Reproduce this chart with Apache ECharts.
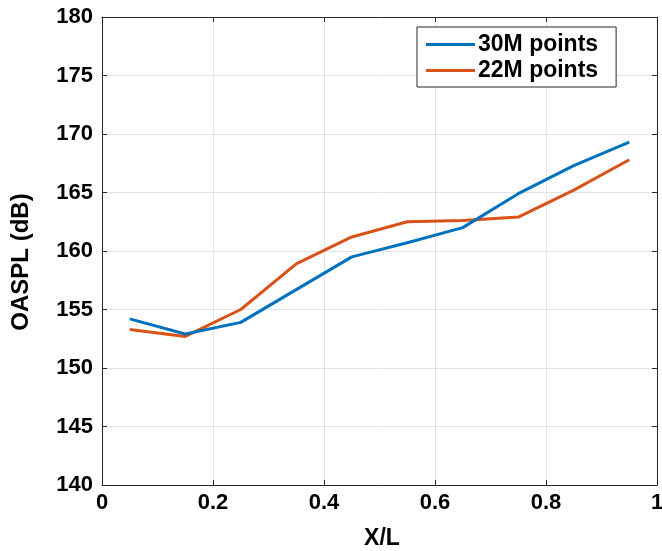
<!DOCTYPE html>
<html>
<head>
<meta charset="utf-8">
<script src="https://cdn.jsdelivr.net/npm/echarts@6/dist/echarts.min.js"></script>
<style>
  html, body { margin: 0; padding: 0; background: #fff; }
  #chart { width: 662px; height: 551px; }
</style>
</head>
<body>
<div id="chart"></div>
<script>
// Normalised position along the body
const xPositions = [0.05, 0.15, 0.25, 0.35, 0.45, 0.55, 0.65, 0.75, 0.85, 0.95];
// Overall sound pressure level (dB) for the two mesh resolutions
const oaspl30M = [154.2, 152.9, 153.9, 156.7, 159.5, 160.7, 162.0, 164.9, 167.3, 169.3];
const oaspl22M = [153.3, 152.7, 155.0, 158.9, 161.2, 162.5, 162.6, 162.9, 165.2, 167.8];
const seriesNames = ['30M points', '22M points'];
const xTicks = [0, 0.2, 0.4, 0.6, 0.8, 1];
const yTicks = [140, 145, 150, 155, 160, 165, 170, 175, 180];

const FONT = '"Liberation Sans", Arial, Helvetica, sans-serif';
const AXIS_COLOR = '#262626';
const GRID_COLOR = '#e3e3e3';

const pairs = (xs, ys) => xs.map((x, i) => [x, ys[i]]);

const tickLabel = { fontFamily: FONT, fontWeight: 'bold', fontSize: 22, color: '#000' };

const chart = echarts.init(document.getElementById('chart'), null, { renderer: 'canvas' });

chart.setOption({
  animation: false,
  backgroundColor: '#fff',
  grid: { left: 102, right: 5, top: 17, bottom: 66, containLabel: false, outerBoundsMode: 'none' },
  legend: {
    orient: 'vertical',
    left: 417,
    top: 27,
    padding: [6, 18, 5, 9],
    borderColor: '#262626',
    borderWidth: 1,
    backgroundColor: '#fff',
    icon: 'rect',
    itemWidth: 49,
    itemHeight: 3,
    itemGap: 3,
    textStyle: { fontFamily: FONT, fontWeight: 'bold', fontSize: 23, color: '#000', padding: [0, 0, 0, -2] },
    data: seriesNames
  },
  xAxis: [
    {
      type: 'value',
      min: xTicks[0],
      max: xTicks[xTicks.length - 1],
      interval: 0.2,
      name: 'X/L',
      nameLocation: 'middle',
      nameGap: 42,
      nameTextStyle: { fontFamily: FONT, fontWeight: 'bold', fontSize: 23, color: '#000', padding: [0, 0, 0, 5] },
      axisLine: { show: true, onZero: false, lineStyle: { color: AXIS_COLOR, width: 1 } },
      axisTick: { show: true, inside: true, length: 5, lineStyle: { color: AXIS_COLOR } },
      axisLabel: {
        ...tickLabel,
        margin: 7,
        formatter: v => (v === 0 || v === 1) ? String(v) : v.toFixed(1)
      },
      splitLine: { show: true, lineStyle: { color: GRID_COLOR, width: 1 } }
    },
    {
      type: 'value',
      position: 'top',
      min: xTicks[0],
      max: xTicks[xTicks.length - 1],
      interval: 0.2,
      axisLine: { show: true, onZero: false, lineStyle: { color: AXIS_COLOR, width: 1 } },
      axisTick: { show: true, inside: true, length: 5, lineStyle: { color: AXIS_COLOR } },
      axisLabel: { show: false },
      splitLine: { show: false }
    }
  ],
  yAxis: [
    {
      type: 'value',
      min: yTicks[0],
      max: yTicks[yTicks.length - 1],
      interval: 5,
      name: 'OASPL (dB)',
      nameLocation: 'middle',
      nameGap: 69,
      nameTextStyle: { fontFamily: FONT, fontWeight: 'bold', fontSize: 24, color: '#000', padding: [0, 22, 0, 0] },
      axisLine: { show: true, onZero: false, lineStyle: { color: AXIS_COLOR, width: 1 } },
      axisTick: { show: true, inside: true, length: 5, lineStyle: { color: AXIS_COLOR } },
      axisLabel: { ...tickLabel, margin: 9 },
      splitLine: { show: true, lineStyle: { color: GRID_COLOR, width: 1 } }
    },
    {
      type: 'value',
      position: 'right',
      min: yTicks[0],
      max: yTicks[yTicks.length - 1],
      interval: 5,
      axisLine: { show: true, onZero: false, lineStyle: { color: AXIS_COLOR, width: 1 } },
      axisTick: { show: true, inside: true, length: 5, lineStyle: { color: AXIS_COLOR } },
      axisLabel: { show: false },
      splitLine: { show: false }
    }
  ],
  series: [
    {
      name: seriesNames[0],
      type: 'line',
      data: pairs(xPositions, oaspl30M),
      symbol: 'none',
      lineStyle: { color: '#0072BD', width: 3 },
      itemStyle: { color: '#0072BD' },
      z: 3
    },
    {
      name: seriesNames[1],
      type: 'line',
      data: pairs(xPositions, oaspl22M),
      symbol: 'none',
      lineStyle: { color: '#D95319', width: 3 },
      itemStyle: { color: '#D95319' },
      z: 2
    }
  ]
});
</script>
</body>
</html>
